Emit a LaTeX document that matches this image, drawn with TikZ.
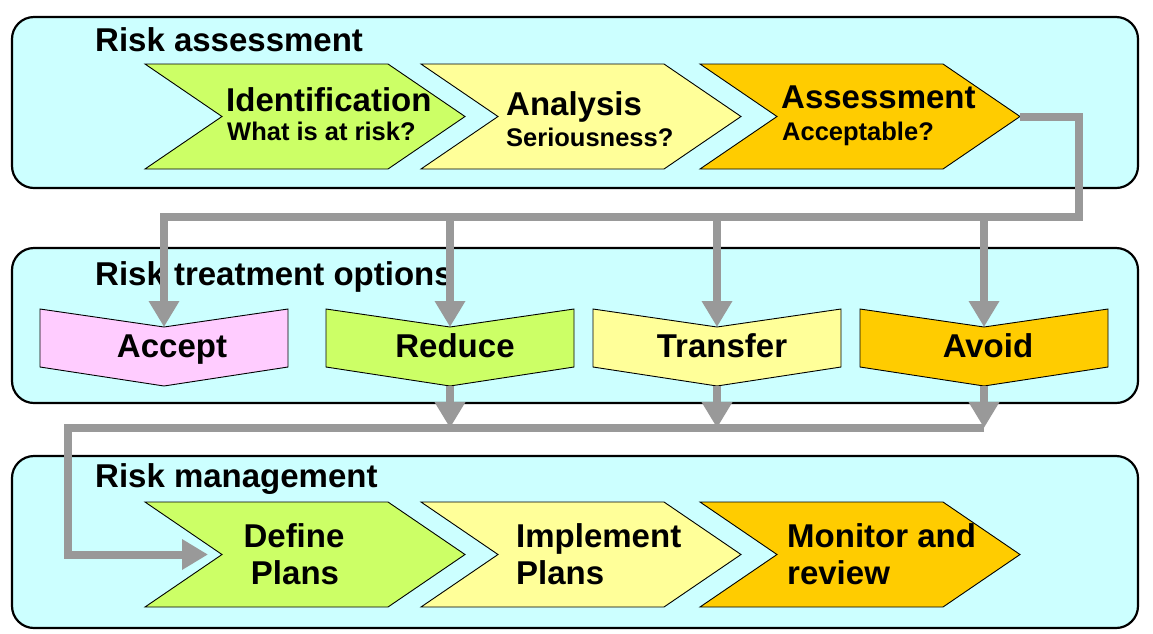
\documentclass[tikz,border=0pt]{standalone}
\usepackage{fontspec}
\setmainfont{Liberation Sans}
\usetikzlibrary{arrows.meta}
\definecolor{panelfill}{HTML}{CCFFFF}
\definecolor{cgreen}{HTML}{CCFF66}
\definecolor{cyellow}{HTML}{FFFF99}
\definecolor{corange}{HTML}{FFCC00}
\definecolor{cpink}{HTML}{FFCCFF}
\definecolor{conngray}{HTML}{999999}
\newcommand{\bigfnt}{\fontsize{33}{38}\selectfont\bfseries}
\newcommand{\subfnt}{\fontsize{25.5}{30}\selectfont\bfseries}
% right-pointing chevron: name, left x, top y, colour
\newcommand{\rchev}[4]{%
  \draw[chevline, fill=#4] (#2,#3) -- ++(243,0) -- ++(77,52.5) -- ++(-77,52.5) -- ++(-243,0) -- ++(77,-52.5) -- cycle;
  \coordinate (#1-notch) at ({#2+77},{#3+52.5});
  \coordinate (#1-tip) at ({#2+320},{#3+52.5});
}
% down-pointing chevron: name, left x, top y, colour
\newcommand{\dchev}[4]{%
  \draw[chevline, fill=#4] (#2,#3) -- ++(124,18) -- ++(124,-18) -- ++(0,58) -- ++(-124,19) -- ++(-124,-19) -- cycle;
  \coordinate (#1-notch) at ({#2+124},{#3+18});
  \coordinate (#1-tip) at ({#2+124},{#3+77});
}
\begin{document}
\begin{tikzpicture}[x=1pt,y=-1pt,
  panel/.style={draw=black, line width=2.2pt, fill=panelfill, rounded corners=22pt,
    rectangle, inner sep=0pt, minimum width=1126pt},
  chevline/.style={draw=black, line width=0.9pt},
  ttl/.style={inner sep=0pt, anchor=base west, font=\bigfnt},
  lbl/.style={inner sep=0pt, anchor=base west, font=\bigfnt},
  clbl/.style={inner sep=0pt, anchor=base, font=\bigfnt},
  sublbl/.style={inner sep=0pt, anchor=base west, font=\subfnt},
  conn/.style={draw=conngray, line width=8pt},
  arr/.style={-{Triangle[width=29pt,length=26pt]}}
]
\useasboundingbox (0,0) rectangle (1153,633);
\fill[white] (0,0) rectangle (1153,633);

% panels
\node[panel, minimum height=171pt] (p1) at (575,102.5) {};
\node[panel, minimum height=155pt] (p2) at (575,325.5) {};
\node[panel, minimum height=172pt] (p3) at (575,542) {};

% titles
\node[ttl] (t1) at (95,51) {Risk assessment};
\node[ttl] (t2) at (95,285) {Risk treatment options};
\node[ttl] (t3) at (95,487) {Risk management};

% row 1
\rchev{ident}{145}{64}{cgreen}
\rchev{analysis}{421}{64}{cyellow}
\rchev{assess}{700}{64}{corange}
\node[lbl] (identT) at (226,111) {Identification};
\node[sublbl] (identQ) at (227,140) {What is at risk?};
\node[lbl] (analysisT) at (506,115) {Analysis};
\node[sublbl] (analysisQ) at (506,146) {Seriousness?};
\node[lbl] (assessT) at (781,108) {Assessment};
\node[sublbl] (assessQ) at (782,140) {Acceptable?};

% row 2
\dchev{accept}{40}{309}{cpink}
\dchev{reduce}{326}{309}{cgreen}
\dchev{transfer}{593}{309}{cyellow}
\dchev{avoid}{860}{309}{corange}
\node[clbl] (acceptT) at (172,357) {Accept};
\node[clbl] (reduceT) at (455,357) {Reduce};
\node[clbl] (transferT) at (722,357) {Transfer};
\node[clbl] (avoidT) at (988,357) {Avoid};

% row 3
\rchev{define}{145}{502}{cgreen}
\rchev{implement}{421}{502}{cyellow}
\rchev{monitor}{700}{502}{corange}
\node[clbl] (defineT) at (294,547) {Define};
\node[clbl] (defineP) at (295,584) {Plans};
\node[lbl] (implementT) at (516,547) {Implement};
\node[lbl] (implementP) at (516,584) {Plans};
\node[lbl] (monitorT) at (787,547) {Monitor and};
\node[lbl] (monitorR) at (787,584) {review};

% connectors
\coordinate (bus1) at (1079,217);
\coordinate (bus2) at (68,428);
\draw[conn, arr] (assess-tip) -| (bus1) -- (accept-notch |- bus1) -- (accept-notch);
\draw[conn, arr] (reduce-notch |- bus1) -- (reduce-notch);
\draw[conn, arr] (transfer-notch |- bus1) -- (transfer-notch);
\draw[conn, arr] (avoid-notch |- bus1) -- (avoid-notch);

\draw[conn, arr] (reduce-tip) -- (reduce-tip |- bus2);
\draw[conn, arr] (transfer-tip) -- (transfer-tip |- bus2);
\draw[conn, arr] (avoid-tip) -- (avoid-tip |- bus2);
\draw[conn, arr, shorten >=14pt] (avoid-tip |- bus2) -- (bus2) -- (bus2 |- define-notch) -- (define-notch);
\end{tikzpicture}
\end{document}
